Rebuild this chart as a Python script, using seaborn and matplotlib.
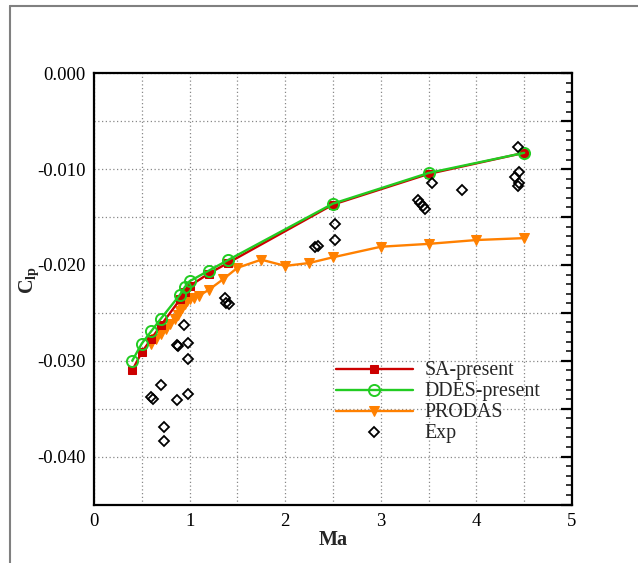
import matplotlib
matplotlib.use("Agg")
import matplotlib.pyplot as plt
from matplotlib.ticker import MultipleLocator, FuncFormatter
from matplotlib.lines import Line2D
import numpy as np
import pandas as pd
import seaborn as sns

# Roll-damping coefficient versus Mach number
sa_ma = [0.4, 0.5, 0.6, 0.7, 0.9, 0.95, 1.0, 1.2, 1.4, 2.5, 3.5, 4.5]
sa_clp = [-0.0310, -0.0291, -0.0277, -0.0263, -0.0236, -0.0228, -0.0222,
          -0.0209, -0.0198, -0.0137, -0.0105, -0.0083]

ddes_ma = [0.4, 0.5, 0.6, 0.7, 0.9, 0.95, 1.0, 1.2, 1.4, 2.5, 3.5, 4.5]
ddes_clp = [-0.0300, -0.0282, -0.0269, -0.0256, -0.0231, -0.0223, -0.0217,
            -0.0206, -0.0195, -0.0136, -0.0104, -0.0083]

prodas_ma = [0.6, 0.65, 0.7, 0.75, 0.8, 0.85, 0.875, 0.9, 0.925, 0.95, 0.975,
             1.0, 1.05, 1.1, 1.2, 1.35, 1.5, 1.75, 2.0, 2.25, 2.5, 3.0, 3.5,
             4.0, 4.5]
prodas_clp = [-0.0283, -0.0277, -0.0272, -0.0267, -0.0262, -0.0256, -0.0252,
              -0.0248, -0.0245, -0.0241, -0.0238, -0.0236, -0.0234, -0.0232,
              -0.0226, -0.0215, -0.0203, -0.01945, -0.0201, -0.0198, -0.0192,
              -0.0181, -0.0178, -0.0174, -0.0172]

exp_ma = [0.60, 0.62, 0.70, 0.73, 0.735, 0.865, 0.87, 0.88, 0.94, 0.98, 0.98,
          0.98, 1.37, 1.38, 1.41, 2.31, 2.34, 2.52, 2.52, 3.39, 3.41, 3.44,
          3.46, 3.54, 3.85, 4.40, 4.43, 4.44, 4.45, 4.45]
exp_clp = [-0.0338, -0.0340, -0.0325, -0.0384, -0.0369, -0.0341, -0.0284,
           -0.0285, -0.0263, -0.0281, -0.0298, -0.0335, -0.0235, -0.0240,
           -0.0241, -0.0181, -0.0180, -0.0157, -0.0174, -0.0132, -0.01355,
           -0.0139, -0.0142, -0.0115, -0.0122, -0.0108, -0.0118, -0.0077,
           -0.0103, -0.0114]

x_ticks = [0, 1, 2, 3, 4, 5]
y_ticks = [0.000, -0.010, -0.020, -0.030, -0.040]

sns.set_theme(style="white")
plt.rcParams["font.family"] = ["Liberation Serif", "DejaVu Serif"]
plt.rcParams["mathtext.fontset"] = "custom"
plt.rcParams["mathtext.rm"] = "Liberation Serif"
plt.rcParams["mathtext.it"] = "Liberation Serif:italic"
plt.rcParams["mathtext.bf"] = "Liberation Serif:bold"
plt.rcParams["axes.unicode_minus"] = False

fig = plt.figure(figsize=(6.38, 5.63), dpi=100)
ax = fig.add_axes([94 / 638, 1 - 504.5 / 563, 478 / 638, 431.2 / 563])

red = "#cc0000"
green = "#22cc22"
orange = "#ff8000"

df_sa = pd.DataFrame({"Ma": sa_ma, "Clp": sa_clp})
df_ddes = pd.DataFrame({"Ma": ddes_ma, "Clp": ddes_clp})
df_prodas = pd.DataFrame({"Ma": prodas_ma, "Clp": prodas_clp})
df_exp = pd.DataFrame({"Ma": exp_ma, "Clp": exp_clp})

sns.lineplot(data=df_prodas, x="Ma", y="Clp", ax=ax, sort=False, color=orange,
             lw=1.7, marker="v", markersize=7, markeredgecolor=orange,
             markerfacecolor=orange, label="PRODAS", zorder=3)
sns.lineplot(data=df_sa, x="Ma", y="Clp", ax=ax, sort=False, color=red,
             lw=1.7, marker="s", markersize=5.5, markeredgecolor=red,
             markerfacecolor=red, label="SA-present", zorder=4)
sns.lineplot(data=df_ddes, x="Ma", y="Clp", ax=ax, sort=False, color=green,
             lw=1.7, marker="o", markersize=8, markeredgecolor=green,
             markerfacecolor="none", markeredgewidth=1.4,
             label="DDES-present", zorder=5)
ax.plot(df_exp["Ma"], df_exp["Clp"], ls="none", marker="D", markersize=5.5,
        markerfacecolor="none", markeredgecolor="black", markeredgewidth=1.3,
        label="Exp", zorder=6)

ax.set_xlim(0, 5)
ax.set_ylim(-0.045, 0.0)

ax.xaxis.set_major_locator(MultipleLocator(0.5))
ax.xaxis.set_minor_locator(MultipleLocator(0.1))
ax.yaxis.set_major_locator(MultipleLocator(0.005))
ax.yaxis.set_minor_locator(MultipleLocator(0.001))


def fmt_x(v, pos):
    for t in x_ticks:
        if abs(v - t) < 1e-6:
            return f"{t:d}"
    return ""


def fmt_y(v, pos):
    for t in y_ticks:
        if abs(v - t) < 1e-9:
            return "0.000" if t == 0 else f"{t:.3f}"
    return ""


ax.xaxis.set_major_formatter(FuncFormatter(fmt_x))
ax.yaxis.set_major_formatter(FuncFormatter(fmt_y))

ax.tick_params(which="both", direction="in", top=False, right=True,
               labelsize=13.5, colors="black", pad=6)
ax.tick_params(which="major", length=8, width=1.6)
ax.tick_params(which="minor", length=4.5, width=1.1)

for s in ax.spines.values():
    s.set_linewidth(1.6)
    s.set_color("black")

ax.grid(True, which="major", color="#888888", linestyle=(0, (1, 2)), lw=0.9)
ax.set_axisbelow(True)

ax.set_xlabel("Ma", fontsize=14.5, fontweight="bold", labelpad=0)
ax.set_ylabel(r"C$_{\mathregular{lp}}$", fontsize=14.5, fontweight="bold")
ax.yaxis.set_label_coords((41 - 94) / 478, (504.5 - 280) / 431.2)

handles, labels = ax.get_legend_handles_labels()
order = ["SA-present", "DDES-present", "PRODAS", "Exp"]
hmap = dict(zip(labels, handles))
leg = ax.legend([hmap[k] for k in order], order, loc="upper left",
                bbox_to_anchor=((336 - 94) / 478, (504.5 - 361.5) / 431.2),
                frameon=False, fontsize=14.3, handlelength=3.87,
                handletextpad=0.6, labelspacing=0.1, borderpad=0,
                borderaxespad=0)

# page frame
fig.add_artist(Line2D([10 / 638, 10 / 638], [0, 1 - 6 / 563],
                      transform=fig.transFigure, color="#808080", lw=1.5))
fig.add_artist(Line2D([10 / 638, 1], [1 - 6 / 563, 1 - 6 / 563],
                      transform=fig.transFigure, color="#808080", lw=1.5))

fig.savefig("out.png", dpi=100)
